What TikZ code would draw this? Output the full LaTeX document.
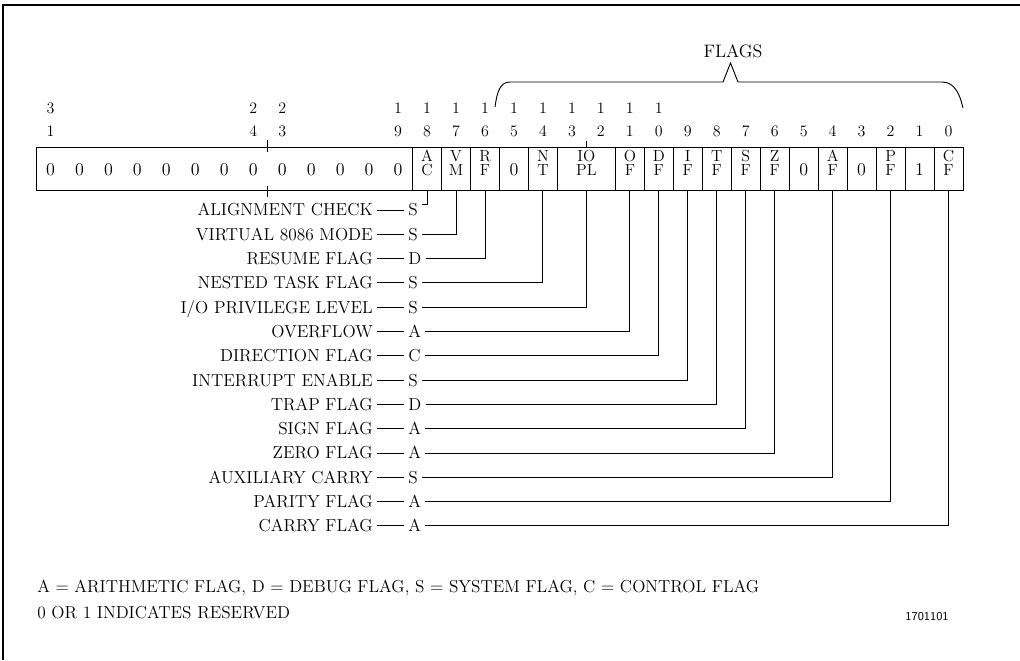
\documentclass[tikz,border=0pt]{standalone}
\begin{document}
\begin{tikzpicture}[x=0.75pt,y=-0.75pt,
  frame/.style={line width=1.4pt},
  boxline/.style={line width=0.75pt},
  wire/.style={line width=0.7pt},
  bitnum/.style={font=\fontsize{12}{13}\selectfont, inner sep=0pt},
  cellt/.style={font=\fontsize{12}{13}\selectfont, inner sep=0pt, text height=8.1pt, text depth=0pt},
  cellz/.style={font=\fontsize{13.5}{14}\selectfont, inner sep=0pt},
  fname/.style={font=\fontsize{13}{14}\selectfont, anchor=east, inner xsep=3pt, inner ysep=0pt, text height=8.9pt, text depth=0pt},
  ftype/.style={font=\fontsize{13}{14}\selectfont, anchor=west, inner xsep=3pt, inner ysep=0pt, text height=8.9pt, text depth=0pt},
  note/.style={font=\fontsize{13}{14}\selectfont, anchor=west, inner sep=0pt},
  docnum/.style={font=\sffamily\fontsize{9}{10}\selectfont, inner sep=0pt}]
\useasboundingbox (0,0) rectangle (1020,660);
\def\W{28.969}
% outer frame (clipped on right and bottom)
\draw[frame] (3,660) -- (3,5) -- (1020,5);
% register box
\draw[boxline] (36,147) rectangle (963,190);
\foreach \k in {1,...,12,14,15,16,17,18,19}
  \draw[boxline] ({963-\k*\W},147) -- ({963-\k*\W},190);
% ticks
\draw[boxline] ({963-24*\W},140) -- ({963-24*\W},152);
\draw[boxline] ({963-24*\W},186) -- ({963-24*\W},197);
\draw[boxline] ({963-13*\W},141) -- ({963-13*\W},147);
% bottom coordinates of cells
\foreach \n in {0,...,18}
  \coordinate (b\n) at ({963-(\n+0.5)*\W},190);
\coordinate (biopl) at ({963-13*\W},190);
% cell contents
\foreach \n/\u/\l in {18/A/C,17/V/M,16/R/F,14/N/T,11/O/F,10/D/F,9/I/F,8/T/F,7/S/F,6/Z/F,4/A/F,2/P/F,0/C/F} {
  \node[cellt] (u\n) at ({963-(\n+0.5)*\W},156) {\u};
  \node[cellt] (l\n) at ({963-(\n+0.5)*\W},170.5) {\l};
}
\node[cellt] (uiopl) at ({963-13*\W},156) {IO};
\node[cellt] (liopl) at ({963-13*\W},170.5) {PL};
\foreach \n/\v in {15/0,5/0,3/0,1/1}
  \node[cellz] (z\n) at ({963-(\n+0.5)*\W},169.5) {\v};
\foreach \n in {19,...,31}
  \node[cellz] (z\n) at ({963-(\n+0.5)*\W},169.5) {0};
% bit numbers
\foreach \n/\t/\u in {31/3/1,24/2/4,23/2/3,19/1/9,18/1/8,17/1/7,16/1/6,15/1/5,14/1/4,13/1/3,12/1/2,11/1/1,10/1/0} {
  \node[bitnum] (tn\n) at ({963-(\n+0.5)*\W},108) {\t};
  \node[bitnum] (un\n) at ({963-(\n+0.5)*\W},131.5) {\u};
}
\foreach \n in {0,...,9}
  \node[bitnum] (un\n) at ({963-(\n+0.5)*\W},131.5) {\n};
% brace
\draw[wire] (495,107) .. controls (497,92) and (500,82) .. (510,82) -- (723,82) -- (730.5,63) -- (738,82) -- (942,82) .. controls (955,82) and (960,95) .. (963,108);
\node[font=\fontsize{13.5}{14}\selectfont, inner sep=0pt] (flags) at (733,51) {FLAGS};
% flag legend rows
\foreach \i/\nm/\ty in {0/ALIGNMENT CHECK/S,1/VIRTUAL 8086 MODE/S,2/RESUME FLAG/D,3/NESTED TASK FLAG/S,4/{I/O PRIVILEGE LEVEL}/S,5/OVERFLOW/A,6/DIRECTION FLAG/C,7/INTERRUPT ENABLE/S,8/TRAP FLAG/D,9/SIGN FLAG/A,10/ZERO FLAG/A,11/AUXILIARY CARRY/S,12/PARITY FLAG/A,13/CARRY FLAG/A} {
  \node[fname] (n\i) at (377,{210+24.3*\i}) {\nm};
  \node[ftype] (t\i) at (404,{210+24.3*\i}) {\ty};
  \draw[wire] (n\i.east) -- (t\i.west);
}
\draw[wire] ([yshift=4.5pt]t0.east) -| (b18);
\foreach \i/\tg in {1/b17,2/b16,3/b14,4/biopl,5/b11,6/b10,7/b9,8/b8,9/b7,10/b6,11/b4,12/b2,13/b0}
  \draw[wire] (t\i.east) -| (\tg);
% notes
\node[note] (note1) at (37,588) {A = ARITHMETIC FLAG, D = DEBUG FLAG, S = SYSTEM FLAG, C = CONTROL FLAG};
\node[note] (note2) at (37,612) {0 OR 1 INDICATES RESERVED};
\node[docnum] (doc) at (927,617) {1701101};
\end{tikzpicture}
\end{document}
